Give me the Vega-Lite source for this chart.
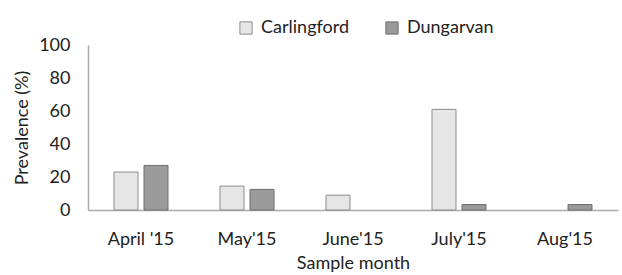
{
  "$schema": "https://vega.github.io/schema/vega-lite/v6.json",
  "autosize": "none",
  "width": 530,
  "height": 165,
  "padding": {"left": 88, "top": 45, "right": 4, "bottom": 65},
  "background": "white",
  "data": {"values": [
    {"month": "April '15", "site": "Carlingford", "prevalence": 23},
    {"month": "April '15", "site": "Dungarvan", "prevalence": 27},
    {"month": "May'15", "site": "Carlingford", "prevalence": 14.5},
    {"month": "May'15", "site": "Dungarvan", "prevalence": 12.5},
    {"month": "June'15", "site": "Carlingford", "prevalence": 9},
    {"month": "July'15", "site": "Carlingford", "prevalence": 61},
    {"month": "July'15", "site": "Dungarvan", "prevalence": 3.3},
    {"month": "Aug'15", "site": "Dungarvan", "prevalence": 3.3}
  ]},
  "mark": {"type": "bar", "strokeWidth": 1},
  "encoding": {
    "x": {
      "field": "month", "type": "nominal", "sort": null,
      "scale": {"domain": ["April '15", "May'15", "June'15", "July'15", "Aug'15"], "paddingInner": 0.49, "paddingOuter": 0.245},
      "axis": {
        "title": "Sample month", "labelAngle": 0, "ticks": false,
        "domainColor": "#aaaaaa", "domainWidth": 1.5,
        "labelFont": "Lato", "labelFontSize": 18, "labelColor": "#222222", "labelPadding": 20,
        "titleFont": "Lato", "titleFontSize": 18, "titleFontWeight": "normal", "titleColor": "#222222", "titlePadding": 6
      }
    },
    "xOffset": {
      "field": "site", "type": "nominal",
      "scale": {"domain": ["Carlingford", "Dungarvan"], "paddingInner": 0.2, "paddingOuter": 0}
    },
    "y": {
      "field": "prevalence", "type": "quantitative",
      "scale": {"domain": [0, 100]},
      "axis": {
        "title": "Prevalence (%)", "values": [0, 20, 40, 60, 80, 100], "grid": false, "ticks": false,
        "domainColor": "#aaaaaa", "domainWidth": 1.5,
        "labelFont": "Lato", "labelFontSize": 18, "labelColor": "#222222", "labelPadding": 18,
        "titleFont": "Lato", "titleFontSize": 18, "titleFontWeight": "normal", "titleColor": "#222222", "titlePadding": 7
      }
    },
    "fill": {
      "field": "site", "type": "nominal",
      "scale": {"domain": ["Carlingford", "Dungarvan"], "range": ["#e6e6e6", "#9a9a9a"]},
      "legend": {
        "title": null, "orient": "none", "direction": "horizontal",
        "legendX": 149, "legendY": -26,
        "symbolType": "square", "symbolSize": 150, "symbolStrokeWidth": 1,
        "labelFont": "Lato", "labelFontSize": 18, "labelColor": "#222222",
        "columnPadding": 34, "labelOffset": 6
      }
    },
    "stroke": {
      "field": "site", "type": "nominal",
      "scale": {"domain": ["Carlingford", "Dungarvan"], "range": ["#8c8c8c", "#6e6e6e"]},
      "legend": null
    }
  },
  "config": {"view": {"stroke": null}}
}
